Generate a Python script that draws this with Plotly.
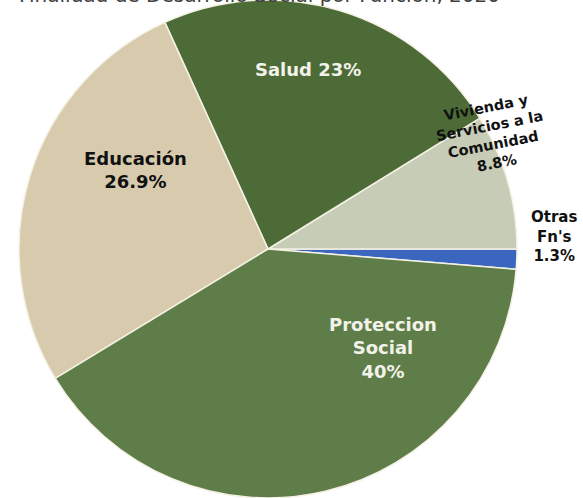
import plotly.graph_objects as go

# Gasto en desarrollo social por función, 2020 (porcentaje del total)
funciones = ["Otras Fn's", "Vivienda y Servicios a la Comunidad", "Salud", "Educación", "Proteccion Social"]
porcentajes = [1.3, 8.8, 23, 26.9, 40]
etiquetas = ["Otras<br>Fn's", "Vivienda y<br>Servicios a la<br>Comunidad", "Salud", "Educación", "Proteccion<br>Social"]
separadores = ["<br>", "<br>", " ", "<br>", "<br>"]
colores = ["#3a66c0", "#c6ccb6", "#4d6b37", "#d8cbad", "#5e7d48"]
colores_texto = ["#111111", "#111111", "#f2f2ea", "#111111", "#f2f2ea"]

W, H = 583, 498
FONT = "DejaVu Sans"

# pie geometry in pixels
cx, cy, r = 268, 249, 249

fig = go.Figure(go.Pie(
    labels=funciones,
    values=porcentajes,
    sort=False,
    direction="counterclockwise",
    rotation=90,
    textinfo="none",
    hoverinfo="label+percent",
    marker=dict(colors=colores, line=dict(color="#f4f1e4", width=1.5)),
    domain=dict(x=[(cx - r) / W, (cx + r) / W], y=[(H - cy - r) / H, (H - cy + r) / H]),
    showlegend=False,
))

# label anchor points (pixels), rotation and size for each slice label
posiciones = [(554, 236), (491, 135), (308, 70), (135, 170), (383, 348)]
angulos = [0, -11, 0, 0, 0]
tamanos = [15, 14.5, 18, 18, 18]

for nombre, valor, sep, col, (x, y), ang, sz in zip(etiquetas, porcentajes, separadores, colores_texto,
                                                   posiciones, angulos, tamanos):
    fig.add_annotation(
        x=x / W, y=1 - y / H, xref="paper", yref="paper",
        text=f"<b>{nombre}{sep}{valor:g}%</b>",
        showarrow=False, textangle=ang,
        font=dict(family=FONT, size=sz, color=col),
        align="center", xanchor="center", yanchor="middle",
    )

fig.add_annotation(
    x=259 / W, y=1 - 9 / H, xref="paper", yref="paper",
    text="Finalidad de Desarrollo Social por Función, 2020",
    showarrow=False, xanchor="center", yanchor="bottom",
    font=dict(family=FONT, size=20, color="#404040"),
)

fig.update_layout(
    width=W, height=H,
    margin=dict(l=0, r=0, t=0, b=0),
    paper_bgcolor="white",
    plot_bgcolor="white",
)

fig.write_html("out.html")
